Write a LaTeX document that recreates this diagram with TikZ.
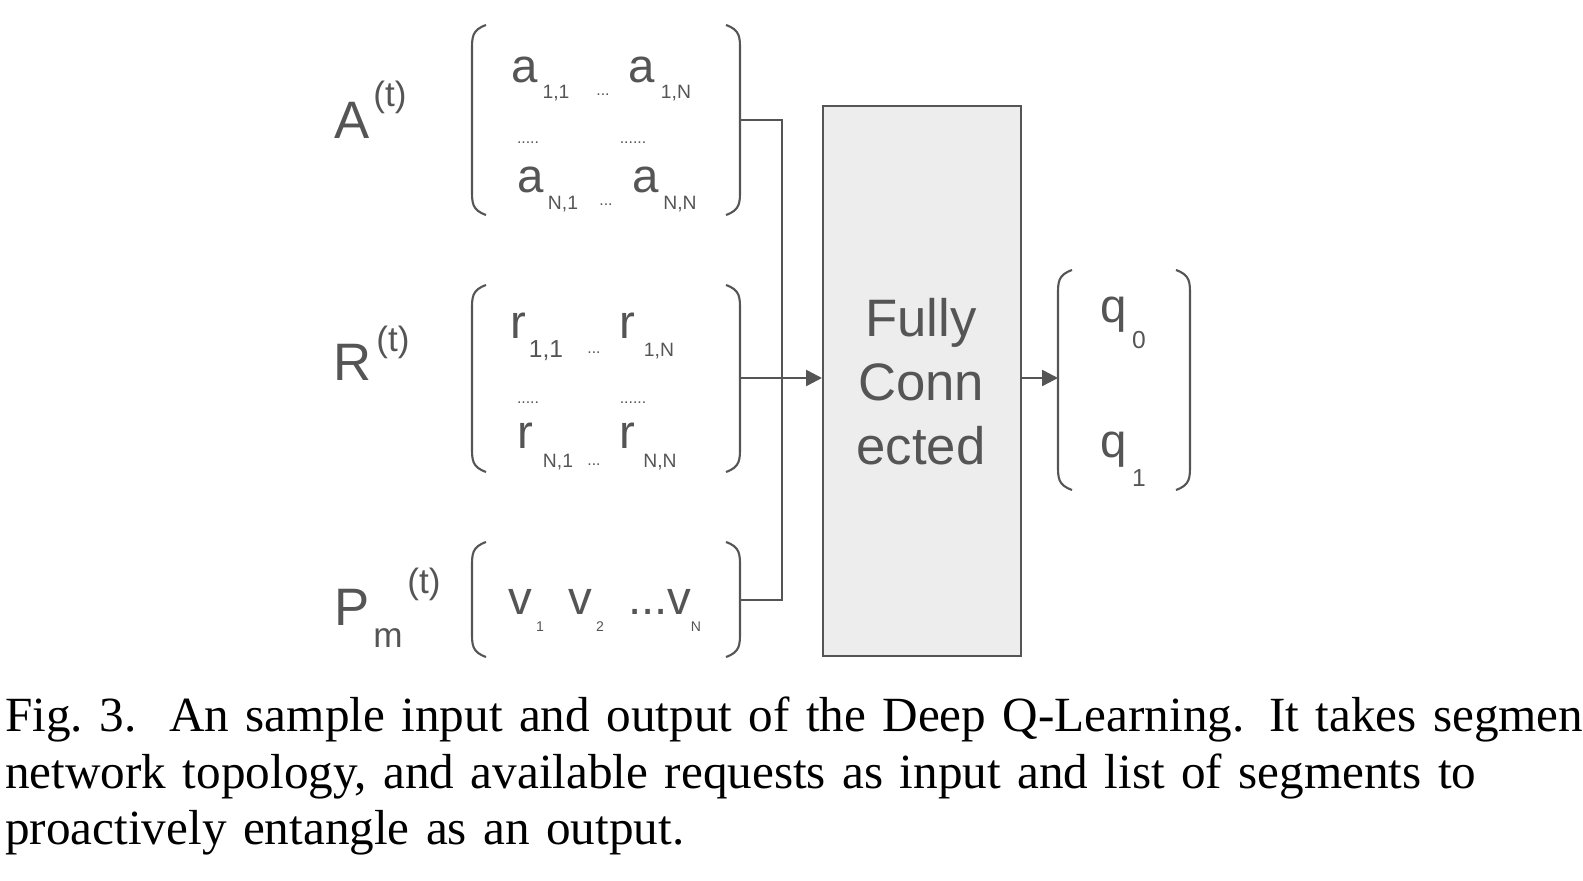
\documentclass[tikz,border=0pt]{standalone}
\usepackage{fontspec}
\setmainfont{Liberation Serif}
\setsansfont{Liberation Sans}
\usetikzlibrary{arrows.meta}
\definecolor{ink}{HTML}{555555}
\begin{document}
\begin{tikzpicture}[x=0.02cm,y=-0.02cm,
 lab/.style={font=\sffamily\fontsize{30}{30}\selectfont,text=ink,inner sep=0},
 sup/.style={font=\sffamily\fontsize{20}{20}\selectfont,text=ink,inner sep=0},
 ent/.style={font=\sffamily\fontsize{27}{27}\selectfont,text=ink,inner sep=0},
 sb/.style={font=\sffamily\fontsize{11}{11}\selectfont,text=ink,inner sep=0},
 dt/.style={font=\sffamily\fontsize{9}{9}\selectfont,text=ink,inner sep=0},
 br/.style={draw=ink,line width=1.2pt},
 wire/.style={draw=ink,line width=1.4pt},
 arr/.style={wire,-{Triangle[length=9pt,width=9pt]}}]
\useasboundingbox (0,0) rectangle (1583,881);
% labels
\node[lab] (A) at (352,120) {A};\node[sup] (At) at (390,97) {(t)};
\node[lab] (R) at (353,362) {R};\node[sup] (Rt) at (393,342) {(t)};
\node[lab] (P) at (352,607) {P};
\node[sup] (Pm) at (388,638) {m};
\node[sup] (Pt) at (424,584) {(t)};
% brackets helper
\newcommand{\mybrk}[4]{% x1 x2 y1 y2
 \draw[br] (#1+14,#3) .. controls (#1,#3+5) and (#1,#3+12) .. (#1,#3+25) -- (#1,#4-25) .. controls (#1,#4-12) and (#1,#4-5) .. (#1+14,#4);
 \draw[br] (#2-14,#3) .. controls (#2,#3+5) and (#2,#3+12) .. (#2,#3+25) -- (#2,#4-25) .. controls (#2,#4-12) and (#2,#4-5) .. (#2-14,#4);}
\mybrk{472}{740}{25}{215}
\mybrk{472}{740}{285}{472}
\mybrk{472}{740}{542}{657}
\mybrk{1058}{1190}{270}{490}
% A entries
\node[ent] (a11) at (525,70) {a};\node[sb] at (556,93) {1,1};
\node[dt] at (603,95) {...};
\node[ent] (a1N) at (642,70) {a};\node[sb] at (676,93) {1,N};
\node[dt] at (528,143) {.....};\node[dt] at (633,143) {......};
\node[ent] (aN1) at (531,180) {a};\node[sb] at (563,204) {N,1};
\node[dt] at (606,205) {...};
\node[ent] (aNN) at (646,180) {a};\node[sb] at (680,204) {N,N};
% R entries
\node[ent] (r11) at (518,326) {r};\node[sb,font=\sffamily\fontsize{14}{14}\selectfont] at (546,351) {1,1};
\node[dt] at (594,353) {...};
\node[ent] (r1N) at (627,326) {r};\node[sb] at (659,351) {1,N};
\node[dt] at (528,403) {.....};\node[dt] at (633,403) {......};
\node[ent] (rN1) at (525,436) {r};\node[sb] at (558,462) {N,1};
\node[dt] at (594,465) {...};
\node[ent] (rNN) at (627,436) {r};\node[sb] at (660,462) {N,N};
% P entries
\node[ent] (v1) at (520,602) {v};\node[sb,font=\sffamily\fontsize{8}{8}\selectfont] at (540,627) {1};
\node[ent] (v2) at (580,602) {v};\node[sb,font=\sffamily\fontsize{8}{8}\selectfont] at (600,627) {2};
\node[ent] (vN) at (660,602) {...v};\node[sb,font=\sffamily\fontsize{8}{8}\selectfont] at (696,627) {N};
% FC box
\node[draw=ink,fill=black!7,line width=1.4pt,inner sep=0,
 minimum width=3.96cm,minimum height=11cm,anchor=north west] (FC) at (822,105) {};
\node[lab,align=center,font=\sffamily\fontsize{30}{36.5}\selectfont] (fct) at (921,382) {Fully\\Conn\\ected};
% connectors
\coordinate (j1) at (740,120);\coordinate (j2) at (782,120);
\coordinate (j3) at (782,600);\coordinate (j4) at (740,600);
\coordinate (rin) at (740,378);
\draw[wire] (j1) -- (j2) -- (j3) -- (j4);
\draw[arr] (rin) -- (rin -| FC.west);
\coordinate (oin) at (1058,378);
\draw[arr] (oin -| FC.east) -- (oin);
% outputs
\node[ent] (q0) at (1114,315) {q};\node[sb,font=\sffamily\fontsize{14}{14}\selectfont] at (1139,340) {0};
\node[ent] (q1) at (1114,450) {q};\node[sb,font=\sffamily\fontsize{14}{14}\selectfont] at (1139,478) {1};
% caption
\node[anchor=north west,inner sep=0,text width=31.1cm,align=left,
 font=\fontsize{28}{32}\selectfont] (cap) at (5,697)
 {\makebox[\linewidth][s]{Fig.~3.\ \ An sample input and output of the Deep Q-Learning. It takes segments,}\\
  \makebox[\linewidth][s]{network topology, and available requests as input and list of segments to}\\
  proactively entangle as an output.};
\end{tikzpicture}
\end{document}
